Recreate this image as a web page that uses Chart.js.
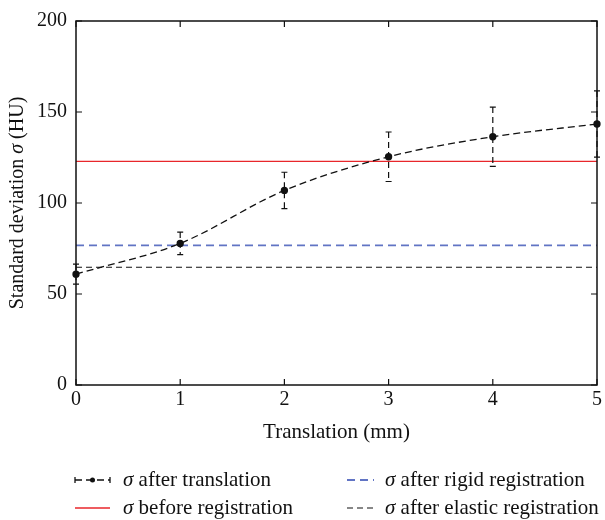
<!DOCTYPE html>
<html>
<head>
<meta charset="utf-8">
<script src="https://cdn.jsdelivr.net/npm/chart.js@4.4.1/dist/chart.umd.min.js"></script>
<style>
  html, body { margin: 0; padding: 0; background: #fff; }
  #wrap { width: 605px; height: 520px; position: relative; }
</style>
</head>
<body>
<div id="wrap"><canvas id="c"></canvas></div>
<script>
  // ---- data ----
  const translations = [0, 1, 2, 3, 4, 5];              // mm
  const sigmaTranslation = [60.9, 77.8, 106.9, 125.4, 136.4, 143.4]; // HU
  const sigmaError = [5.5, 6.2, 10.0, 13.6, 16.3, 18.2];
  const sigmaBefore = 122.9;
  const sigmaRigid = 76.7;
  const sigmaElastic = 64.7;
  const xRange = [0, 5];
  const xTicks = [0, 1, 2, 3, 4, 5];
  const yTicks = [0, 50, 100, 150, 200];

  const C = {
    ink: "#111",
    red: "#e8262b",
    blue: "#6174c4",
  };
  const SERIF = "'Liberation Serif', 'DejaVu Serif', serif";
  const FS = 20;   // tick labels
  const FT = 21;   // x title, legend
  const FY = 20;   // y title

  const flat = (v) => xRange.map((x) => ({ x: x, y: v }));

  // error bars, box, inward ticks, titles and legend
  const decor = {
    id: "decor",
    afterDatasetsDraw(chart) {
      const { ctx, scales: { x, y } } = chart;
      ctx.save();
      ctx.strokeStyle = C.ink;
      ctx.lineWidth = 1.2;
      translations.forEach((t, i) => {
        const px = x.getPixelForValue(t);
        const top = y.getPixelForValue(sigmaTranslation[i] + sigmaError[i]);
        const bot = y.getPixelForValue(sigmaTranslation[i] - sigmaError[i]);
        ctx.setLineDash([6, 4]);
        ctx.beginPath(); ctx.moveTo(px, top); ctx.lineTo(px, bot); ctx.stroke();
        ctx.setLineDash([]);
        ctx.beginPath();
        ctx.moveTo(px - 3, top); ctx.lineTo(px + 3, top);
        ctx.moveTo(px - 3, bot); ctx.lineTo(px + 3, bot);
        ctx.stroke();
      });
      ctx.restore();
    },
    afterDraw(chart) {
      const { ctx, chartArea: a, scales: { x, y } } = chart;
      ctx.save();
      ctx.strokeStyle = C.ink;
      ctx.lineWidth = 1.5;
      ctx.strokeRect(a.left, a.top, a.right - a.left, a.bottom - a.top);
      ctx.lineWidth = 1.2;
      const tl = 6;
      ctx.beginPath();
      xTicks.forEach((v) => {
        const px = x.getPixelForValue(v);
        ctx.moveTo(px, a.bottom); ctx.lineTo(px, a.bottom - tl);
        ctx.moveTo(px, a.top); ctx.lineTo(px, a.top + tl);
      });
      yTicks.forEach((v) => {
        const py = y.getPixelForValue(v);
        ctx.moveTo(a.left, py); ctx.lineTo(a.left + tl, py);
        ctx.moveTo(a.right, py); ctx.lineTo(a.right - tl, py);
      });
      ctx.stroke();

      // axis titles
      ctx.fillStyle = C.ink;
      ctx.textBaseline = "middle";
      ctx.textAlign = "center";
      ctx.font = FT + "px " + SERIF;
      ctx.fillText("Translation (mm)", (a.left + a.right) / 2, a.bottom + 47);

      const parts = [
        ["Standard deviation ", FY + "px " + SERIF],
        ["σ", "italic " + FY + "px " + SERIF],
        [" (HU)", FY + "px " + SERIF],
      ];
      let total = 0;
      parts.forEach((p) => { ctx.font = p[1]; total += ctx.measureText(p[0]).width; });
      ctx.translate(17, (a.top + a.bottom) / 2);
      ctx.rotate(-Math.PI / 2);
      ctx.textAlign = "left";
      let cx = -total / 2;
      parts.forEach((p) => { ctx.font = p[1]; ctx.fillText(p[0], cx, 1); cx += ctx.measureText(p[0]).width; });
      ctx.setTransform(chart.currentDevicePixelRatio, 0, 0, chart.currentDevicePixelRatio, 0, 0);

      // legend: two columns, two rows
      const rows = [a.bottom + 95, a.bottom + 123];
      const cols = [{ s: 75, e: 110, t: 123 }, { s: 347, e: 374, t: 385 }];
      const slots = [[0, 0], [1, 0], [0, 1], [1, 1]];
      chart.data.datasets.forEach((d, i) => {
        const col = cols[slots[i][0]];
        const ry = rows[slots[i][1]];
        ctx.strokeStyle = d.borderColor;
        ctx.lineWidth = d.borderWidth;
        ctx.setLineDash(d.borderDash || []);
        ctx.beginPath(); ctx.moveTo(col.s, ry); ctx.lineTo(col.e, ry); ctx.stroke();
        ctx.setLineDash([]);
        if (d.pointRadius) {
          ctx.beginPath();
          ctx.moveTo(col.s, ry - 3); ctx.lineTo(col.s, ry + 3);
          ctx.moveTo(col.e, ry - 3); ctx.lineTo(col.e, ry + 3);
          ctx.stroke();
          ctx.fillStyle = C.ink;
          ctx.beginPath(); ctx.arc((col.s + col.e) / 2, ry, 2.5, 0, Math.PI * 2); ctx.fill();
        }
        ctx.fillStyle = C.ink;
        ctx.font = "italic " + FT + "px " + SERIF;
        ctx.fillText("σ", col.t, ry);
        const w = ctx.measureText("σ").width;
        ctx.font = FT + "px " + SERIF;
        ctx.fillText(d.label.replace(/^σ/, ""), col.t + w, ry);
      });
      ctx.restore();
    },
  };

  new Chart(document.getElementById("c"), {
    type: "line",
    data: {
      datasets: [
        {
          label: "σ after translation",
          data: translations.map((t, i) => ({ x: t, y: sigmaTranslation[i] })),
          borderColor: C.ink,
          backgroundColor: C.ink,
          borderWidth: 1.3,
          borderDash: [7, 4],
          pointRadius: 3,
          pointBackgroundColor: C.ink,
          cubicInterpolationMode: "monotone",
          clip: false,
        },
        {
          label: "σ after rigid registration",
          data: flat(sigmaRigid),
          borderColor: C.blue,
          borderWidth: 1.8,
          borderDash: [8, 5],
          pointRadius: 0,
        },
        {
          label: "σ before registration",
          data: flat(sigmaBefore),
          borderColor: C.red,
          borderWidth: 1.3,
          pointRadius: 0,
        },
        {
          label: "σ after elastic registration",
          data: flat(sigmaElastic),
          borderColor: C.ink,
          borderWidth: 1.2,
          borderDash: [6, 4],
          pointRadius: 0,
        },
      ],
    },
    options: {
      responsive: true,
      maintainAspectRatio: false,
      animation: false,
      layout: { padding: { top: 14, right: 6, left: 0, bottom: 0 } },
      scales: {
        x: {
          type: "linear", min: 0, max: 5,
          afterFit: (s) => { s.height = 135; },
          afterBuildTicks: (s) => { s.ticks = xTicks.map((v) => ({ value: v })); },
          grid: { display: false, tickLength: 0 },
          border: { display: false },
          ticks: { color: C.ink, padding: 3, font: { family: SERIF, size: FS } },
        },
        y: {
          type: "linear", min: 0, max: 200,
          afterFit: (s) => { s.width = 76; },
          afterBuildTicks: (s) => { s.ticks = yTicks.map((v) => ({ value: v })); },
          grid: { display: false, tickLength: 0 },
          border: { display: false },
          ticks: { color: C.ink, padding: 9, font: { family: SERIF, size: FS } },
        },
      },
      plugins: {
        legend: { display: false },
        tooltip: { enabled: false },
      },
    },
    plugins: [decor],
  });
</script>
</body>
</html>
